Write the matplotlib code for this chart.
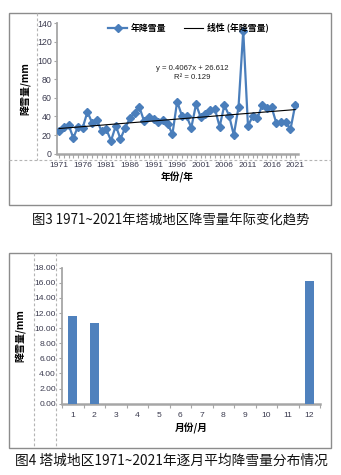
import matplotlib
matplotlib.use('Agg')
import matplotlib.pyplot as plt
from matplotlib.patches import Rectangle
from matplotlib.lines import Line2D

# ---------------- data ----------------
years = list(range(1971, 2022))
snow = [24, 29, 31, 17, 29, 28, 45, 33, 36, 24,
        26, 14, 30, 16, 28, 38, 44, 50, 35, 39,
        37, 34, 36, 32, 21, 56, 41, 40, 28, 53,
        39, 43, 47, 48, 29, 52, 41, 20, 50, 132,
        30, 40, 38, 52, 49, 50, 33, 34, 34, 26, 52]
trend_slope = 0.4067
trend_intercept = 26.612
r_squared = 0.129
year_labels = [str(y) if (y - 1971) % 5 == 0 else '' for y in years]
y1_ticks = [0, 20, 40, 60, 80, 100, 120, 140]

months = list(range(1, 13))
monthly = [11.6, 10.7, 0, 0, 0, 0, 0, 0, 0, 0, 0, 16.2]
month_labels = [str(m) for m in months]
y2_ticks = [0, 2, 4, 6, 8, 10, 12, 14, 16, 18]

series_name = '年降雪量'
trend_name = '线性 (年降雪量)'
caption1 = '图3 1971~2021年塔城地区降雪量年际变化趋势'
caption2 = '图4 塔城地区1971~2021年逐月平均降雪量分布情况'

# ---------------- style ----------------
CJK = ['Noto Sans CJK SC', 'DejaVu Sans']
NUM = ['Liberation Sans', 'DejaVu Sans']
plt.rcParams['font.family'] = NUM
BLUE = '#4A7EBB'
AXC = '#a6a6a6'
TXT = '#3a3a4e'

W, H = 341, 475
fig = plt.figure(figsize=(W / 100, H / 100), dpi=100)


def frac(l, t, r, b):
    return [l / W, 1 - b / H, (r - l) / W, (b - t) / H]


canvas = fig.add_axes([0, 0, 1, 1], zorder=0)
canvas.set_xlim(0, W)
canvas.set_ylim(H, 0)
canvas.axis('off')

# frames
canvas.add_patch(Rectangle((9, 13), 322, 192, fill=False, ec='#8c8c8c', lw=1.0))
canvas.add_patch(Rectangle((9, 253), 322, 195, fill=False, ec='#8c8c8c', lw=1.0))
# dashed guide lines
dash = dict(color='#b4b4b4', lw=0.8, ls=(0, (2.5, 2)))
canvas.plot([37, 37], [13, 160], **dash)
canvas.plot([9, 331], [160, 160], **dash)
canvas.plot([34, 34], [253, 448], **dash)
canvas.plot([56, 56], [253, 448], **dash)

# captions
canvas.text(171, 221, caption1, ha='center', va='center', fontsize=9.6,
            family=CJK, color='#111111')
canvas.text(171, 461, caption2, ha='center', va='center', fontsize=9.9,
            family=CJK, color='#111111')

# ---------------- chart 1 ----------------
ax1 = fig.add_axes(frac(57, 23.3, 298, 153.7), zorder=2)
ax1.set_facecolor('none')
trend = [trend_slope * (i + 1) + trend_intercept for i in range(len(years))]
ax1.plot(years, snow, color=BLUE, lw=1.6, marker='D', ms=3.6, mec=BLUE,
         mfc=BLUE, label=series_name, zorder=3)
ax1.plot(years, trend, color='black', lw=0.8, label=trend_name, zorder=4)
ax1.set_xlim(1970.55, 2021.6)
ax1.set_ylim(0, 140)
for s in ['top', 'right']:
    ax1.spines[s].set_visible(False)
ax1.spines['left'].set_color(AXC)
ax1.spines['left'].set_linewidth(1.3)
ax1.spines['bottom'].set_color(AXC)
ax1.spines['bottom'].set_linewidth(1.8)
ax1.set_xticks(years)
ax1.set_xticklabels(year_labels)
ax1.set_yticks(y1_ticks)
ax1.tick_params(axis='x', direction='out', length=2.6, width=0.8, color=AXC,
                pad=3.2, labelsize=6.1, labelcolor=TXT)
ax1.tick_params(axis='y', direction='out', length=2.2, width=0.8, color=AXC,
                pad=1.6, labelsize=6.3, labelcolor=TXT)
ax1.set_xlabel('年份/年', family=CJK, fontsize=7, fontweight='bold', labelpad=2.5)
ax1.set_ylabel('降雪量/mm', family=CJK, fontsize=7.2, fontweight='bold', labelpad=4)
ax1.yaxis.set_label_coords((30 - 57) / 241, 0.5)

leg = ax1.legend(loc='center', bbox_to_anchor=(0.544, 0.966), ncol=2,
                 frameon=False, prop={'family': CJK, 'size': 6.4, 'weight': 'bold'},
                 handlelength=2.2, handletextpad=0.35, columnspacing=2.0,
                 borderaxespad=0, borderpad=0)
ax1.text(1999.3, 92, 'y = %.4fx + %.3f' % (trend_slope, trend_intercept),
         ha='center', va='center', fontsize=5.6, color='#222222')
ax1.text(1999.3, 81.3, 'R² = %.3f' % r_squared, ha='center', va='center',
         fontsize=5.6, color='#222222')

# ---------------- chart 2 ----------------
ax2 = fig.add_axes(frac(62, 267.7, 320, 403.7), zorder=2)
ax2.set_facecolor('none')
ax2.bar(months, monthly, width=0.4, color='#4F81BD', zorder=3)
ax2.set_xlim(0.5, 12.5)
ax2.set_ylim(0, 18)
for s in ['top', 'right']:
    ax2.spines[s].set_visible(False)
ax2.spines['left'].set_color(AXC)
ax2.spines['left'].set_linewidth(1.3)
ax2.spines['bottom'].set_color(AXC)
ax2.spines['bottom'].set_linewidth(1.8)
ax2.set_yticks(y2_ticks)
ax2.set_yticklabels(['%.2f' % v for v in y2_ticks])
ax2.set_xticks([m + 0.5 for m in [0] + months])
ax2.set_xticklabels([])
ax2.set_xticks(months, minor=True)
ax2.set_xticklabels(month_labels, minor=True)
ax2.tick_params(axis='x', which='major', direction='out', length=2.6, width=0.8,
                color=AXC)
ax2.tick_params(axis='x', which='minor', length=0, pad=6.0, labelsize=6.1,
                labelcolor=TXT)
ax2.tick_params(axis='y', direction='out', length=2.2, width=0.8, color=AXC,
                pad=2.2, labelsize=6.1, labelcolor=TXT)
ax2.set_xlabel('月份/月', family=CJK, fontsize=7, fontweight='bold', labelpad=3)
ax2.set_ylabel('降雪量/mm', family=CJK, fontsize=7.2, fontweight='bold')
ax2.yaxis.set_label_coords((25 - 62) / 258, 0.5)

fig.savefig('out.png', dpi=100)
